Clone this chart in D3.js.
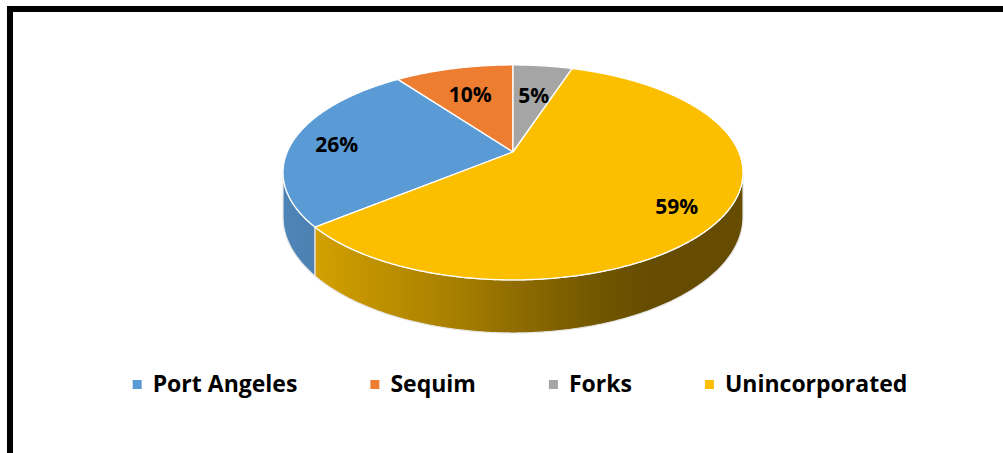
<!DOCTYPE html>
<html><head><meta charset="utf-8">
<script src="https://cdn.jsdelivr.net/npm/d3@7"></script>
<style>body{margin:0;background:#fff}svg{display:block}text{font-family:"Open Sans",sans-serif;font-weight:700}</style>
</head><body><svg id="c" width="1003" height="453"></svg>
<script>
const categories = ["Port Angeles", "Sequim", "Forks", "Unincorporated"];
const values = [26, 10, 5, 59];
const colors = ["#5B9BD5", "#ED7D31", "#A5A5A5", "#FCBF00"];

const W = 1003, H = 453;
const svg = d3.select("#c");
svg.append("rect").attr("x", 10).attr("y", 9).attr("width", W + 20).attr("height", H + 20)
  .attr("fill", "#fff").attr("stroke", "#000").attr("stroke-width", 6);

// 3D projection parameters
const cx = 513, cy = 152, A = 225.8, B = 103.6, K = 0.19, D = 43;
function proj(theta, r, z) {
  const u = r * Math.sin(theta), t = -r * Math.cos(theta);
  const p = 1 / (1 - K * t);
  return [cx + A * u * p, cy + B * t * p + z * D * p];
}
const deg = Math.PI / 180;
const start = 230.4 * deg;
const pie = d3.pie().sort(null).startAngle(start).endAngle(start + 2 * Math.PI);
const arcs = pie(values);
const total = d3.sum(values);
const line = d3.line();

function arcPts(a0, a1, r, z) {
  const n = Math.max(2, Math.ceil(Math.abs(a1 - a0) / (0.5 * deg)));
  return d3.range(n + 1).map(i => proj(a0 + (a1 - a0) * i / n, r, z));
}

// gradients for side shading
const defs = svg.append("defs");
const shade = [[0, 0.86], [0.08, 0.83], [0.38, 0.66], [0.53, 0.55], [0.69, 0.45], [0.8, 0.40], [1, 0.40]];
colors.forEach((c, i) => {
  const g = defs.append("linearGradient").attr("id", "g" + i).attr("gradientUnits", "userSpaceOnUse")
    .attr("x1", cx - A * 1.02).attr("x2", cx + A * 1.02).attr("y1", 0).attr("y2", 0);
  const base = d3.rgb(c);
  shade.forEach(([o, f]) => {
    g.append("stop").attr("offset", o).attr("stop-color", d3.rgb(base.r * f, base.g * f, base.b * f).formatHex());
  });
});

// visible front side
const v0 = Math.acos(-K), v1 = 2 * Math.PI - Math.acos(-K);
const sides = svg.append("g");
arcs.forEach((d, i) => {
  for (let n = -1; n <= 2; n++) {
    const b0 = Math.max(d.startAngle, v0 + 2 * Math.PI * n), b1 = Math.min(d.endAngle, v1 + 2 * Math.PI * n);
    if (b1 > b0) {
      const pts = arcPts(b0, b1, 1, 0).concat(arcPts(b1, b0, 1, 1));
      sides.append("path").attr("d", line(pts) + "Z").attr("fill", `url(#g${i})`)
        .attr("stroke", "#e6e6e6").attr("stroke-width", 1.2).attr("stroke-linejoin", "round");
    }
  }
});

// top faces
const tops = svg.append("g");
arcs.forEach((d, i) => {
  const pts = [proj(0, 0, 0)].concat(arcPts(d.startAngle, d.endAngle, 1, 0));
  tops.append("path").attr("d", line(pts) + "Z").attr("fill", colors[i])
    .attr("stroke", "#fff").attr("stroke-width", 1.3).attr("stroke-linejoin", "round");
});

// labels
const fmt = d3.format(".0%");
arcs.forEach((d, i) => {
  const frac = values[i] / total;
  const r = 0.62 + 0.7 * Math.min(frac, 0.26);
  const mid = (d.startAngle + d.endAngle) / 2;
  const [x, y] = proj(mid, r, 0);
  svg.append("text").attr("x", x).attr("y", y).attr("dy", "0.5em").attr("text-anchor", "middle")
    .attr("font-size", 21).attr("fill", "#000").text(fmt(frac));
});

// legend
const leg = svg.append("g");
const items = categories.map((c, i) => {
  const g = leg.append("g");
  g.append("rect").attr("x", 0).attr("y", -12).attr("width", 9).attr("height", 9).attr("fill", colors[i]);
  const t = g.append("text").attr("x", 20).attr("y", 0).attr("font-size", 23).attr("fill", "#000").text(c);
  return { g, w: 20 + t.node().getComputedTextLength() };
});
const gap = 73;
const totalW = d3.sum(items, d => d.w) + gap * (items.length - 1);
let x0 = 520 - totalW / 2;
items.forEach(it => { it.g.attr("transform", `translate(${x0},392)`); x0 += it.w + gap; });
</script></body></html>
